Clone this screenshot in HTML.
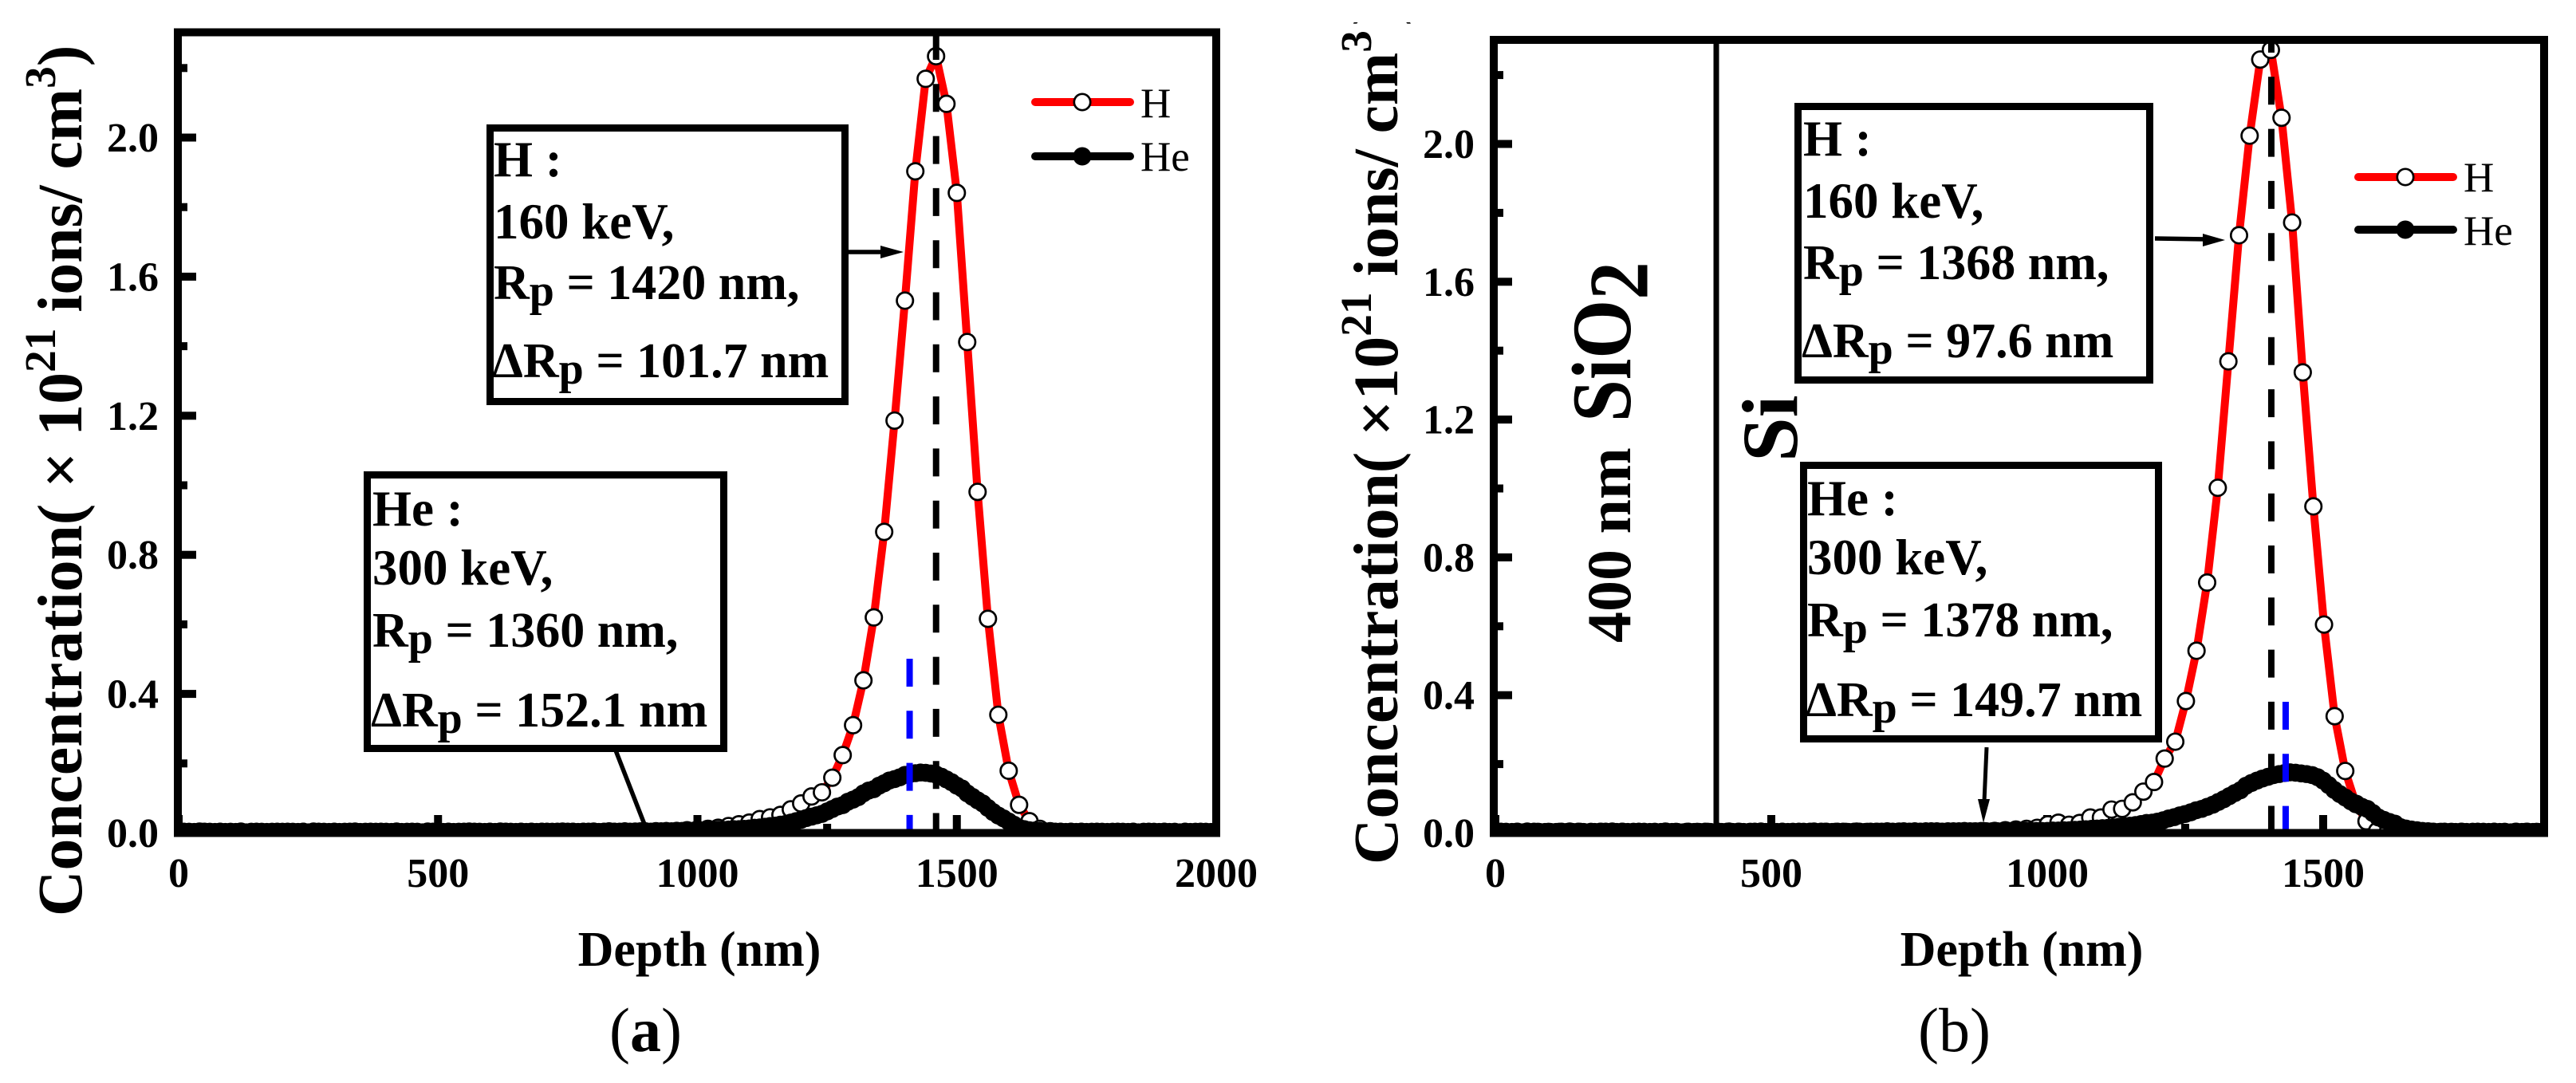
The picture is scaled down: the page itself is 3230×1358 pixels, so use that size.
<!DOCTYPE html>
<html lang="en">
<head>
<meta charset="utf-8">
<title>H and He implantation concentration profiles</title>
<style>
html,body{margin:0;padding:0;background:#fff;width:3230px;height:1358px;overflow:hidden}
svg{display:block}
text{font-family:"Liberation Serif",serif;fill:#000;white-space:pre}
.b{font-weight:bold}
</style>
</head>
<body>
<svg id="figure" xmlns="http://www.w3.org/2000/svg" width="3230" height="1358" viewBox="0 0 3230 1358">
  <rect width="3230" height="1358" fill="#fff"/>
  <defs>
    <clipPath id="clipA"><rect x="218" y="35" width="1312" height="1014"/></clipPath>
    <clipPath id="clipB"><rect x="1868" y="45" width="1327" height="1004"/></clipPath>
    <clipPath id="clipTitleB"><rect x="1600" y="28" width="260" height="1100"/></clipPath>
  </defs>

  <g id="panelA">
    <g id="ticksA"></g>
    <g id="marksA" clip-path="url(#clipA)"></g>
    <rect x="223" y="40.5" width="1302" height="1004" fill="none" stroke="#000" stroke-width="10"/>
    <g id="labelsA"></g>
    <text class="b" x="877" y="1211" font-size="62" text-anchor="middle">Depth (nm)</text>
    <text class="b" transform="translate(102,1149) rotate(-90)" font-size="79.6">Concentration( × 10<tspan dy="-33" font-size="55.4">21</tspan><tspan dy="33"> ions/ cm</tspan><tspan dy="-33" font-size="55.4">3</tspan><tspan dy="33">)</tspan></text>

    <g>
      <line x1="1298" y1="128" x2="1417" y2="128" stroke="#f00" stroke-width="10" stroke-linecap="round"/>
      <circle cx="1357" cy="128" r="10.2" fill="#fff" stroke="#000" stroke-width="2.7"/>
      <text x="1430" y="147" font-size="53">H</text>
      <line x1="1298" y1="196" x2="1417" y2="196" stroke="#000" stroke-width="10" stroke-linecap="round"/>
      <circle cx="1357" cy="196" r="11.5" fill="#000"/>
      <text x="1430" y="214" font-size="53">He</text>
    </g>

    <g>
      <rect x="614.5" y="160.5" width="445" height="343" fill="#fff" stroke="#000" stroke-width="9"/>
      <text class="b" font-size="63">
        <tspan x="619" y="221">H :</tspan>
        <tspan x="619" y="299">160 keV,</tspan>
        <tspan x="619" y="375" font-size="62">R<tspan dy="8" font-size="56">p</tspan><tspan dy="-8"> = 1420 nm,</tspan></tspan>
        <tspan x="617" y="473" font-size="62">ΔR<tspan dy="8" font-size="56">p</tspan><tspan dy="-8"> = 101.7 nm</tspan></tspan>
      </text>
      <line x1="1064" y1="316" x2="1110" y2="316" stroke="#000" stroke-width="5.5"/>
      <polygon points="1104,308 1133,316 1104,324" fill="#000"/>
    </g>
    <g>
      <rect x="460.5" y="595.5" width="447" height="343" fill="#fff" stroke="#000" stroke-width="9"/>
      <text class="b" font-size="63">
        <tspan x="467" y="659">He :</tspan>
        <tspan x="467" y="733">300 keV,</tspan>
        <tspan x="467" y="811" font-size="62">R<tspan dy="8" font-size="56">p</tspan><tspan dy="-8"> = 1360 nm,</tspan></tspan>
        <tspan x="465" y="911" font-size="62">ΔR<tspan dy="8" font-size="56">p</tspan><tspan dy="-8"> = 152.1 nm</tspan></tspan>
      </text>
      <line x1="772" y1="941" x2="809" y2="1036" stroke="#000" stroke-width="5.5"/>
    </g>
    <text x="764" y="1318" font-size="78">(<tspan class="b">a</tspan>)</text>
  </g>

  <g id="panelB">
    <g id="ticksB"></g>
    <line x1="2152" y1="50" x2="2152" y2="1044" stroke="#000" stroke-width="7"/>
    <g id="marksB" clip-path="url(#clipB)"></g>
    <rect x="1873" y="50" width="1317" height="994.5" fill="none" stroke="#000" stroke-width="10"/>
    <g id="labelsB"></g>
    <text class="b" x="2535" y="1211" font-size="62" text-anchor="middle">Depth (nm)</text>
    <g clip-path="url(#clipTitleB)">
      <text class="b" transform="translate(1752,1084) rotate(-90)" font-size="79.6">Concentration( ×10<tspan dy="-33" font-size="55.4">21</tspan><tspan dy="33"> ions/ cm</tspan><tspan dy="-33" font-size="55.4">3</tspan><tspan dy="33" dx="6">)</tspan></text>
    </g>

    <text class="b" transform="translate(2044,806) rotate(-90)" font-size="78">400 nm</text>
    <text class="b" transform="translate(2044,529) rotate(-90) scale(0.97,1.08)" font-size="98">SiO<tspan dy="20">2</tspan></text>
    <text class="b" transform="translate(2253,579) rotate(-90)" font-size="100">Si</text>

    <g>
      <line x1="2957" y1="222" x2="3076" y2="222" stroke="#f00" stroke-width="10" stroke-linecap="round"/>
      <circle cx="3016" cy="222" r="10.2" fill="#fff" stroke="#000" stroke-width="2.7"/>
      <text x="3089" y="240" font-size="53">H</text>
      <line x1="2957" y1="288" x2="3076" y2="288" stroke="#000" stroke-width="10" stroke-linecap="round"/>
      <circle cx="3016" cy="288" r="11.5" fill="#000"/>
      <text x="3089" y="307" font-size="53">He</text>
    </g>

    <g>
      <rect x="2254.5" y="133.5" width="441" height="343" fill="#fff" stroke="#000" stroke-width="9"/>
      <text class="b" font-size="63">
        <tspan x="2261" y="195">H :</tspan>
        <tspan x="2261" y="273">160 keV,</tspan>
        <tspan x="2261" y="350" font-size="62">R<tspan dy="8" font-size="56">p</tspan><tspan dy="-8"> = 1368 nm,</tspan></tspan>
        <tspan x="2259" y="448" font-size="62">ΔR<tspan dy="8" font-size="56">p</tspan><tspan dy="-8"> = 97.6 nm</tspan></tspan>
      </text>
      <line x1="2702" y1="299" x2="2768" y2="300" stroke="#000" stroke-width="5.5"/>
      <polygon points="2762,293 2790,301 2762,309" fill="#000"/>
    </g>
    <g>
      <rect x="2261.5" y="583.5" width="445" height="343" fill="#fff" stroke="#000" stroke-width="9"/>
      <text class="b" font-size="63">
        <tspan x="2266" y="646">He :</tspan>
        <tspan x="2266" y="720">300 keV,</tspan>
        <tspan x="2266" y="798" font-size="62">R<tspan dy="8" font-size="56">p</tspan><tspan dy="-8"> = 1378 nm,</tspan></tspan>
        <tspan x="2264" y="898" font-size="62">ΔR<tspan dy="8" font-size="56">p</tspan><tspan dy="-8"> = 149.7 nm</tspan></tspan>
      </text>
      <line x1="2491" y1="937" x2="2488" y2="1005" stroke="#000" stroke-width="5"/>
      <polygon points="2480,1002 2487,1032 2495,1002" fill="#000"/>
    </g>
    <text x="2405" y="1318" font-size="78">(b)</text>
  </g>
</svg>

<script>
// ---- tick labels ----
const xTicksA = [0, 500, 1000, 1500, 2000];
const xTicksB = [0, 500, 1000, 1500];
const xMinorA = [250, 750, 1250, 1750];
const xMinorB = [250, 750, 1250, 1750];
const yTicks = [0.0, 0.4, 0.8, 1.2, 1.6, 2.0];
const yMinor = [0.2, 0.6, 1.0, 1.4, 1.8, 2.2];

// ---- panel (a) H: one value every 20 nm, one row per 100 nm ----
const hStepA = 20;
const hValuesA = [
.003,.003,.004,.003,.003,
.003,.004,.003,.003,.003,
.003,.003,.003,.004,.003,
.003,.003,.004,.003,.003,
.003,.004,.003,.003,.004,
.003,.003,.003,.004,.003,
.003,.004,.003,.003,.003,
.003,.003,.004,.003,.003,
.004,.003,.003,.004,.004,
.004,.005,.005,.006,.008,
.010,.012,.015,.020,.025,
.030,.040,.045,.052,.068,
.085,.105,.117,.159,.224,
.310,.439,.620,.866,1.186,
1.531,1.903,2.169,2.234,2.097,
1.841,1.412,.981,.616,.340,
.179,.081,.034,.012,.005,
.003,.003,.003,.003,.003,
.003,.003,.003,.003,.003,
.003,.003,.003,.003,.003,
.003];

// ---- panel (a) He: one value every 10 nm, one row per 100 nm ----
const heStepA = 10;
const heValuesA = [
.003,.004,.003,.003,.002,.004,.003,.003,.004,.003,
.003,.003,.004,.002,.003,.004,.003,.003,.003,.004,
.003,.004,.003,.003,.004,.002,.003,.004,.003,.003,
.004,.003,.003,.004,.003,.003,.002,.004,.003,.004,
.003,.003,.004,.003,.003,.004,.003,.002,.003,.004,
.004,.003,.004,.003,.003,.004,.003,.004,.003,.003,
.004,.003,.004,.004,.003,.003,.004,.003,.004,.003,
.004,.004,.003,.004,.003,.004,.004,.003,.004,.004,
.004,.003,.004,.005,.004,.004,.005,.004,.004,.005,
.005,.004,.005,.005,.006,.005,.005,.006,.006,.006,
.007,.007,.008,.008,.009,.009,.010,.011,.011,.012,
.013,.015,.016,.018,.020,.021,.024,.026,.030,.034,
.038,.043,.047,.051,.055,.062,.069,.076,.080,.090,
.096,.103,.114,.122,.126,.136,.143,.151,.155,.160,
.167,.170,.172,.174,.173,.171,.168,.162,.154,.146,
.136,.128,.114,.104,.094,.085,.072,.060,.050,.042,
.033,.024,.015,.011,.008,.007,.006,.005,.005,.004,
.004,.003,.004,.003,.004,.003,.003,.004,.003,.003,
.003,.004,.003,.003,.004,.002,.003,.004,.003,.003,
.004,.003,.003,.002,.004,.003,.003,.004,.003,.003,
.003];

// ---- panel (b) H: one value every 19.25 nm ----
const hStepB = 19.25;
const hValuesB = [
.003,.003,.003,.004,.003,.003,.003,.004,.003,.003,
.003,.004,.003,.003,.003,.003,.004,.003,.003,.003,
.003,.003,.004,.003,.003,.004,.003,.003,.003,.003,
.004,.003,.003,.003,.004,.003,.003,.003,.004,.003,
.003,.004,.003,.003,.004,.004,.005,.006,.008,.010,
.012,.015,.025,.030,.024,.029,.045,.045,.068,.070,
.089,.120,.148,.216,.265,.383,.529,.727,1.002,1.369,
1.735,2.024,2.245,2.273,2.076,1.772,1.337,.948,.605,.339,
.180,.084,.034,.006,.003,.003,.003,.003,.003,.003,
.003,.003,.003,.003,.003,.003,.003,.003,.003];

// ---- panel (b) He: one value every 10 nm, one row per 100 nm ----
const heStepB = 10;
const heValuesB = [
.003,.004,.003,.003,.004,.002,.003,.004,.003,.003,
.003,.003,.004,.003,.003,.004,.003,.002,.003,.004,
.004,.003,.003,.004,.003,.003,.004,.003,.003,.003,
.003,.004,.003,.003,.002,.004,.003,.003,.004,.003,
.003,.003,.004,.003,.004,.003,.003,.004,.003,.003,
.004,.003,.004,.003,.003,.004,.003,.004,.003,.004,
.004,.003,.004,.004,.003,.004,.004,.003,.004,.004,
.004,.005,.004,.004,.005,.004,.005,.004,.005,.005,
.005,.004,.005,.005,.005,.006,.005,.005,.006,.005,
.005,.005,.006,.006,.006,.006,.006,.006,.006,.006,
.006,.007,.007,.008,.008,.009,.010,.011,.012,.013,
.014,.015,.016,.018,.020,.021,.023,.026,.029,.030,
.033,.037,.042,.046,.051,.055,.060,.066,.070,.076,
.082,.090,.098,.107,.116,.124,.137,.145,.152,.158,
.163,.168,.171,.174,.176,.175,.173,.171,.168,.162,
.152,.139,.125,.113,.103,.092,.085,.076,.070,.058,
.045,.038,.032,.027,.017,.013,.010,.008,.006,.005,
.004,.003,.004,.003,.003,.004,.003,.003,.004,.003,
.003,.004,.003,.003,.002,.004,.003,.004,.003,.003];

// ---- reference depth markers ----
const hPeakDepthA = 1460;
const hePeakDepthA = 1409;
const hPeakDepthB = 1406;
const hePeakDepthB = 1432;

// ---- axis functions ----
function xA(d){ return 224 + d * 0.6505; }
function yA(v){ return 1044.5 - v * 436; }
function xB(d){ return 1875 + d * 0.692; }
function yB(v){ return 1044.5 - v * 432; }

const NS = 'http://www.w3.org/2000/svg';
function mk(tag, parent){
  const el = document.createElementNS(NS, tag);
  parent.appendChild(el);
  return el;
}

function drawTicks(parent, labels, x, y, majorX, minorX, left, labelX){
  majorX.forEach(function(t){
    const el = mk('rect', parent);
    
    
    el.setAttribute('x', x(t) - 5); el.setAttribute('y', 1022);
    el.setAttribute('width', 10); el.setAttribute('height', 22);
    const tx = mk('text', labels);
    
    
    tx.setAttribute('class', 'b');
    tx.setAttribute('x', x(t)); tx.setAttribute('y', 1112);
    tx.setAttribute('font-size', 52); tx.setAttribute('text-anchor', 'middle');
    tx.textContent = String(t);
  });
  minorX.forEach(function(t){
    const el = mk('rect', parent);
    
    
    el.setAttribute('x', x(t) - 5); el.setAttribute('y', 1033);
    el.setAttribute('width', 10); el.setAttribute('height', 11);
  });
  yTicks.forEach(function(t){
    const el = mk('rect', parent);
    
    
    el.setAttribute('x', left); el.setAttribute('y', y(t) - 5);
    el.setAttribute('width', 23); el.setAttribute('height', 10);
    const tx = mk('text', labels);
    
    
    tx.setAttribute('class', 'b');
    tx.setAttribute('x', labelX); tx.setAttribute('y', y(t) + 17.5);
    tx.setAttribute('font-size', 52); tx.setAttribute('text-anchor', 'end');
    tx.textContent = t.toFixed(1);
  });
  yMinor.forEach(function(t){
    const el = mk('rect', parent);
    
    
    el.setAttribute('x', left); el.setAttribute('y', y(t) - 5);
    el.setAttribute('width', 12); el.setAttribute('height', 10);
  });
}

function pathFrom(values, step, x, y){
  return values.map(function(v, i){ return x(i * step).toFixed(2) + ',' + y(v).toFixed(2); }).join(' ');
}

function drawH(parent, values, step, x, y){
  const line = mk('polyline', parent);
  
  
  line.setAttribute('points', pathFrom(values, step, x, y));
  line.setAttribute('fill', 'none');
  line.setAttribute('stroke', '#f00');
  line.setAttribute('stroke-width', 10);
  line.setAttribute('stroke-linejoin', 'round');
  values.forEach(function(v, i){
    const c = mk('circle', parent);
    
    
    c.setAttribute('cx', x(i * step)); c.setAttribute('cy', y(v));
    c.setAttribute('r', 10.2);
    c.setAttribute('fill', '#fff'); c.setAttribute('stroke', '#000'); c.setAttribute('stroke-width', 2.7);
  });
}

function drawHe(parent, values, step, x, y){
  const line = mk('polyline', parent);
  
  
  line.setAttribute('points', pathFrom(values, step, x, y));
  line.setAttribute('fill', 'none');
  line.setAttribute('stroke', '#000');
  line.setAttribute('stroke-width', 10);
  values.forEach(function(v, i){
    const c = mk('circle', parent);
    
    
    c.setAttribute('cx', x(i * step)); c.setAttribute('cy', y(v));
    c.setAttribute('r', 11.3);
    c.setAttribute('fill', '#000');
  });
}

function dashed(parent, name, color, xp, y1, y2, offset){
  const l = mk('line', parent);
  
  
  l.setAttribute('x1', xp); l.setAttribute('x2', xp);
  l.setAttribute('y1', y1); l.setAttribute('y2', y2);
  l.setAttribute('stroke', color);
  l.setAttribute('stroke-width', 8);
  l.setAttribute('stroke-dasharray', '35 30.3');
  l.setAttribute('stroke-dashoffset', offset);
}

const marksA = document.getElementById('marksA');
const marksB = document.getElementById('marksB');

drawTicks(document.getElementById('ticksA'), document.getElementById('labelsA'), xA, yA, xTicksA, xMinorA, 223, 199);
drawH(marksA, hValuesA, hStepA, xA, yA);
dashed(marksA, 'h-peak-dashed-line', '#000', xA(hPeakDepthA), 45, 1044, 5);
drawHe(marksA, heValuesA, heStepA, xA, yA);
dashed(marksA, 'he-peak-dashed-line', '#00f', xA(hePeakDepthA), 826, 1045, 0);

drawTicks(document.getElementById('ticksB'), document.getElementById('labelsB'), xB, yB, xTicksB, xMinorB, 1873, 1849);
drawH(marksB, hValuesB, hStepB, xB, yB);
dashed(marksB, 'h-peak-dashed-line', '#000', xB(hPeakDepthB), 50, 1044, 19);
drawHe(marksB, heValuesB, heStepB, xB, yB);
dashed(marksB, 'he-peak-dashed-line', '#00f', xB(hePeakDepthB), 880, 1046, 0);
</script>
</body>
</html>
